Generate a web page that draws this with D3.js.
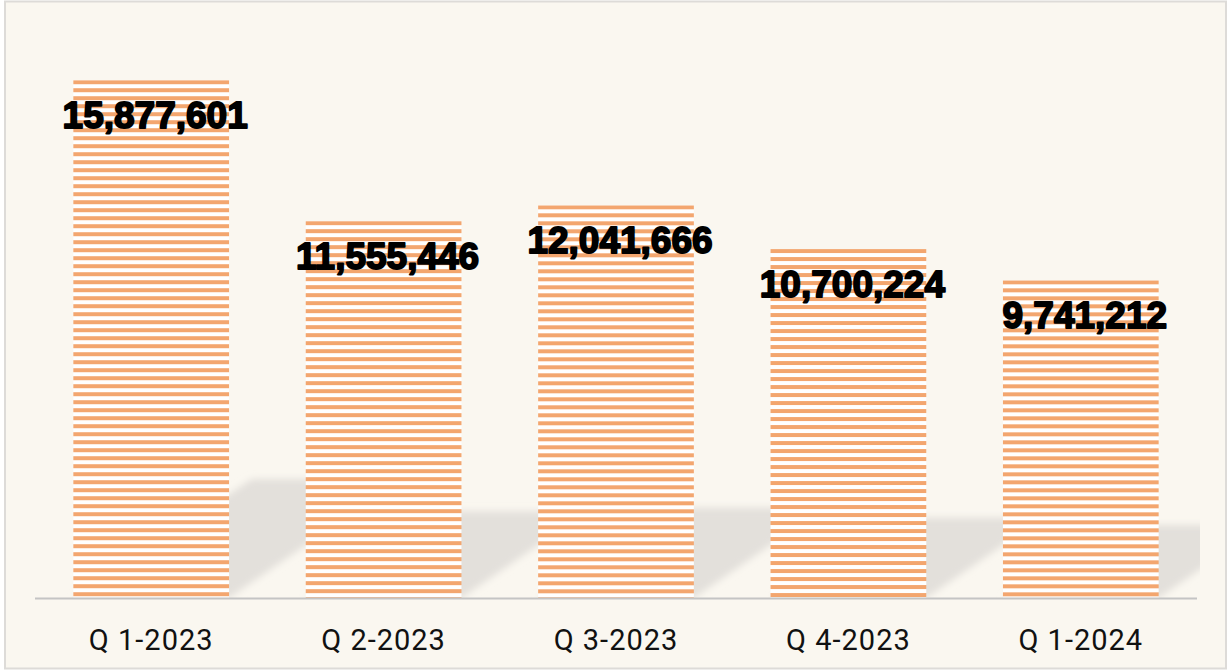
<!DOCTYPE html>
<html><head><meta charset="utf-8">
<script src="https://cdn.jsdelivr.net/npm/d3@7"></script>
<style>html,body{margin:0;padding:0;background:#fff;}svg{display:block;}</style>
</head><body>
<svg id="c" width="1230" height="671"></svg>
<script>
const categories = ["Q 1-2023","Q 2-2023","Q 3-2023","Q 4-2023","Q 1-2024"];
const values = [15877601, 11555446, 12041666, 10700224, 9741212];
const yMax = 18000000;

const svg = d3.select("#c");
const W = 1230, H = 671;
const m = {left:35, right:33, top:11, bottom:73};
const x = d3.scaleBand().domain(categories).range([m.left, W - m.right]).paddingInner(0.33).paddingOuter(0.165);
const y = d3.scaleLinear().domain([0, yMax]).range([H - m.bottom, m.top]);
const base = y(0);

svg.append("rect").attr("x",5).attr("y",1.5).attr("width",1221).attr("height",667)
  .attr("fill","#faf7f0").attr("stroke","#dddbd8").attr("stroke-width",2);

const defs = svg.append("defs");
defs.append("filter").attr("id","blur").attr("x","-20%").attr("y","-50%").attr("width","140%").attr("height","200%")
  .append("feGaussianBlur").attr("stdDeviation",3.5);
defs.append("clipPath").attr("id","plotclip").append("rect")
  .attr("x",m.left).attr("y",0).attr("width",1200-m.left).attr("height",base);

values.forEach((v,i)=>{
  const p = defs.append("pattern").attr("id","stripe"+i).attr("patternUnits","userSpaceOnUse")
    .attr("x",0).attr("y",y(v)).attr("width",8).attr("height",8);
  p.append("rect").attr("width",8).attr("height",8).attr("fill","#ffffff");
  p.append("rect").attr("width",8).attr("height",4).attr("fill","#f3a66f");
});

// shadows
const sh = svg.append("g").attr("clip-path","url(#plotclip)");
const skew = 1.45, ratio = 0.23;
sh.selectAll("path").data(values).join("path")
  .attr("d",(v,i)=>{
    const x0 = x(categories[i]), x1 = x0 + x.bandwidth();
    const h = (base - y(v)) * ratio;
    const dx = h * skew;
    return `M${x0},${base} L${x1},${base} L${x1+dx},${base-h} L${x0+dx+6},${base-h} Z`;
  })
  .attr("fill","#e3e0db").attr("filter","url(#blur)");

// bars
svg.append("g").selectAll("rect").data(values).join("rect")
  .attr("x",(v,i)=>x(categories[i]))
  .attr("y",v=>y(v))
  .attr("width",x.bandwidth())
  .attr("height",v=>base - y(v))
  .attr("fill",(v,i)=>`url(#stripe${i})`);

// axis line
svg.append("line").attr("x1",m.left).attr("x2",W-m.right).attr("y1",base+0.5).attr("y2",base+0.5)
  .attr("stroke","#c4c4c4").attr("stroke-width",2);

// value labels
const fmt = d3.format(",");
svg.append("g").selectAll("text").data(values).join("text")
  .attr("x",(v,i)=>x(categories[i]) + x.bandwidth()/2 + 4)
  .attr("y",v=>y(v) + 48)
  .attr("text-anchor","middle")
  .attr("font-family","'Liberation Sans', Arial, sans-serif")
  .attr("font-weight","bold")
  .attr("font-size",37)
  .attr("fill","#000").attr("stroke","#000").attr("stroke-width",1.8).attr("stroke-linejoin","round")
  .text(v=>fmt(v));

// category labels
const xAxis = svg.append("g").attr("transform",`translate(0,${base})`)
  .call(d3.axisBottom(x).tickSize(0).tickPadding(31));
xAxis.select(".domain").remove();
xAxis.selectAll("text").attr("font-family","Roboto, sans-serif").attr("font-size",29)
  .attr("letter-spacing","1px").attr("fill","#111").attr("dy","0.71em");
</script>
</body></html>
